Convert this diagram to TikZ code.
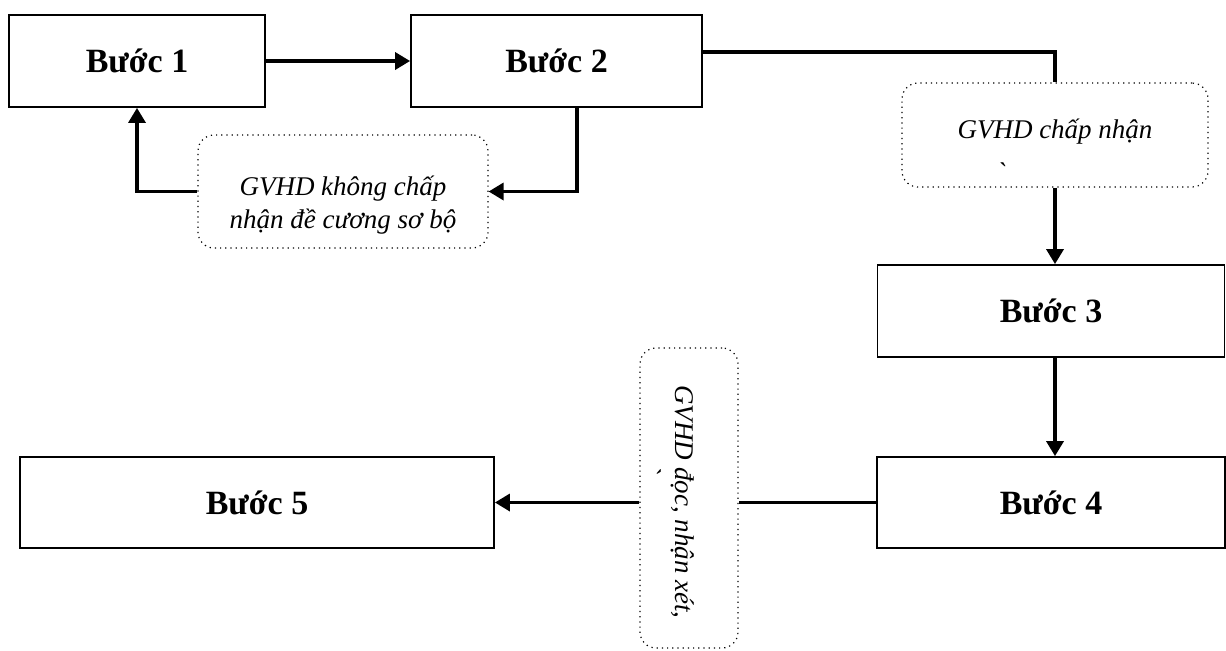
\documentclass[tikz,border=0pt]{standalone}
\usepackage{fontspec}
\setmainfont{Liberation Serif}
\usepackage{tikz}
\usetikzlibrary{arrows.meta,calc,positioning}

\begin{document}
\begin{tikzpicture}[
  x=0.5pt,y=-0.5pt,
  stepbox/.style={draw,line width=0.9pt,minimum height=46pt,inner sep=0pt,
    font=\fontsize{17}{20}\selectfont\bfseries},
  note/.style={draw,dotted,line width=0.6pt,rounded corners=8pt,inner sep=0pt},
  notetext/.style={align=center,inner sep=0pt,
    font=\fontsize{13.5}{16.5}\selectfont\itshape},
  flow/.style={line width=1.7pt,-{Triangle[length=7.5pt,width=8.5pt]}},
  link/.style={line width=1.7pt}
]
  \useasboundingbox (0,0) rectangle (1226,650);

  \node[stepbox,minimum width=128pt] (step1) at (137,61) {Bước 1};
  \node[stepbox,minimum width=145.5pt] (step2) at (556.5,61) {Bước 2};
  \node[stepbox,minimum width=173.5pt] (step3) at (1051,311) {Bước 3};
  \node[stepbox,minimum width=174pt,minimum height=45.5pt] (step4)
    at (1051,502.5) {Bước 4};
  \node[stepbox,minimum width=237pt,minimum height=45.5pt] (step5)
    at (257,502.5) {Bước 5};

  \node[note,minimum width=145pt,minimum height=56.5pt] (reject) at (343,191.5) {};
  \node[notetext] (rejecttext) at (343,205)
    {GVHD không chấp\\nhận đề cương sơ bộ};
  \node[note,minimum width=153pt,minimum height=52pt] (ok) at (1055,135) {};
  \node[notetext] (oktext) at (1055,150)
    {GVHD chấp nhận\\[5pt]\textasciigrave\hspace*{4em}};
  \node[note,minimum width=49pt,minimum height=150pt] (review) at (689,498) {};
  \node[notetext,rotate=-90] (reviewtext) at (668,502)
    {GVHD đọc, nhận xét,\\\textasciigrave\hspace*{2.4em}};

  \draw[flow] (step1) -- (step2);
  \draw[flow] ($(step2.south)+(20.5,0)$) |- (reject.east);
  \draw[flow] (reject.west) -| (step1.south);
  \draw[link] ($(step2.north east)+(0,38)$) -| (ok.north);
  \draw[flow] (ok.south) -- (ok.south |- step3.north);
  \draw[flow] (ok.south |- step3.south) -- (ok.south |- step4.north);
  \draw[link] (step4.west) -- (step4.west -| review.east);
  \draw[flow] (review.west |- step5.east) -- (step5.east);
\end{tikzpicture}
\end{document}
